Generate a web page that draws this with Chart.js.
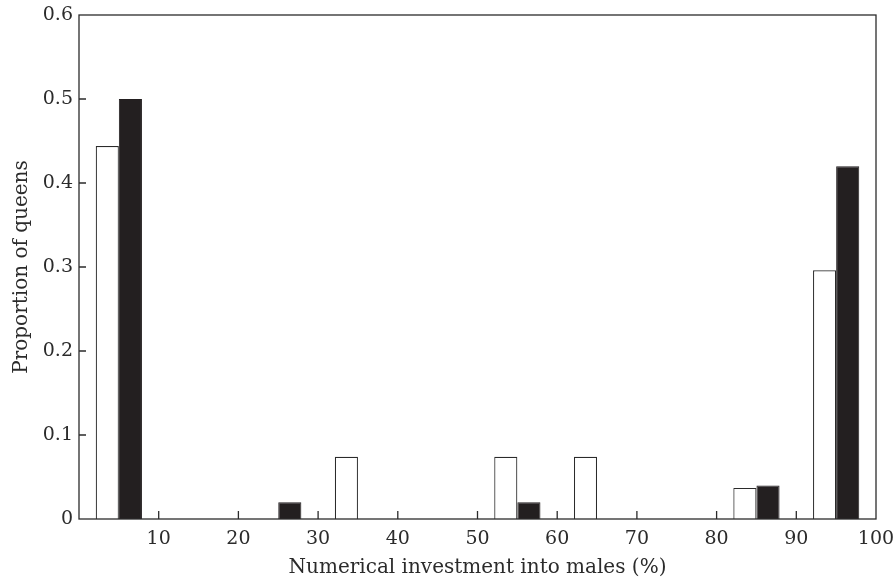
<!DOCTYPE html>
<html>
<head>
<meta charset="utf-8">
<script src="https://cdn.jsdelivr.net/npm/chart.js@4.4.0/dist/chart.umd.min.js"></script>
<style>
  html, body { margin: 0; padding: 0; background: #fff; }
  #wrap { width: 895px; height: 581px; position: relative; }
</style>
</head>
<body>
<div id="wrap"><canvas id="chart"></canvas></div>
<script>
// bin centres (% males), proportions
const binCentres = [5, 15, 25, 35, 45, 55, 65, 75, 85, 95];
const whiteBars = [0.444, 0, 0, 0.074, 0, 0.074, 0.074, 0, 0.037, 0.296];
const blackBars = [0.5, 0, 0.02, 0, 0, 0.02, 0, 0, 0.04, 0.42];
const xTicks = [0, 10, 20, 30, 40, 50, 60, 70, 80, 90, 100];
const yTicks = [0, 0.1, 0.2, 0.3, 0.4, 0.5, 0.6];

const ink = '#2b2b2b';
const serif = '"DejaVu Serif", "Liberation Serif", serif';

// draw inward ticks and the closing frame
const framePlugin = {
    id: 'frame',
    afterDatasetsDraw(chart) {
        const ctx = chart.ctx;
        const area = chart.chartArea;
        const x = chart.scales.x;
        const y = chart.scales.y;
        ctx.save();
        ctx.strokeStyle = ink;
        ctx.lineWidth = 1.3;
        ctx.strokeRect(area.left, area.top, area.right - area.left, area.bottom - area.top);
        ctx.beginPath();
        xTicks.slice(1, -1).forEach(v => {
            const px = x.getPixelForValue(v);
            ctx.moveTo(px, area.bottom);
            ctx.lineTo(px, area.bottom - 8);
        });
        yTicks.slice(1, -1).forEach(v => {
            const py = y.getPixelForValue(v);
            ctx.moveTo(area.left, py);
            ctx.lineTo(area.left + 7, py);
        });
        ctx.stroke();
        ctx.restore();
    }
};

new Chart(document.getElementById('chart'), {
    type: 'bar',
    data: {
        datasets: [
            {
                data: binCentres.map((c, i) => ({ x: c, y: whiteBars[i] })),
                backgroundColor: '#ffffff',
                borderColor: ink,
                borderWidth: 1.2,
                borderSkipped: 'bottom'
            },
            {
                data: binCentres.map((c, i) => ({ x: c, y: blackBars[i] })),
                backgroundColor: '#231f20',
                borderColor: '#231f20',
                borderWidth: 1,
                borderSkipped: 'bottom'
            }
        ]
    },
    options: {
        responsive: true,
        maintainAspectRatio: false,
        animation: false,
        categoryPercentage: 0.58,
        barPercentage: 1.0,
        layout: { padding: { top: 15, right: 19, left: 0, bottom: 0 } },
        plugins: { legend: { display: false }, tooltip: { enabled: false } },
        scales: {
            x: {
                type: 'linear',
                min: 0,
                max: 100,
                offset: false,
                afterBuildTicks: s => { s.ticks = xTicks.map(v => ({ value: v })); },
                afterFit: s => {
                    s.height = 62;
                    s.paddingLeft = 0;
                    s.paddingRight = 0;
                },
                grid: { display: false, drawTicks: false },
                border: { display: false },
                ticks: {
                    padding: 9,
                    color: ink,
                    font: { family: serif, size: 19 },
                    callback: v => (v === 0 ? '' : String(v)),
                    maxRotation: 0
                },
                title: {
                    display: true,
                    text: 'Numerical investment into males (%)',
                    color: ink,
                    font: { family: serif, size: 20 },
                    padding: { top: 0, bottom: 1 }
                }
            },
            y: {
                min: 0,
                max: 0.6,
                afterBuildTicks: s => { s.ticks = yTicks.map(v => ({ value: v })); },
                afterFit: s => {
                    s.width = 79;
                    s.paddingTop = 0;
                    s.paddingBottom = 0;
                },
                grid: { display: false, drawTicks: false },
                border: { display: false },
                ticks: {
                    padding: 6,
                    color: ink,
                    font: { family: serif, size: 19 },
                    callback: v => String(Math.round(v * 10) / 10)
                },
                title: {
                    display: true,
                    text: 'Proportion of queens',
                    color: ink,
                    font: { family: serif, size: 20 },
                    padding: { top: 10, bottom: 0 }
                }
            }
        }
    },
    plugins: [framePlugin]
});
</script>
</body>
</html>
